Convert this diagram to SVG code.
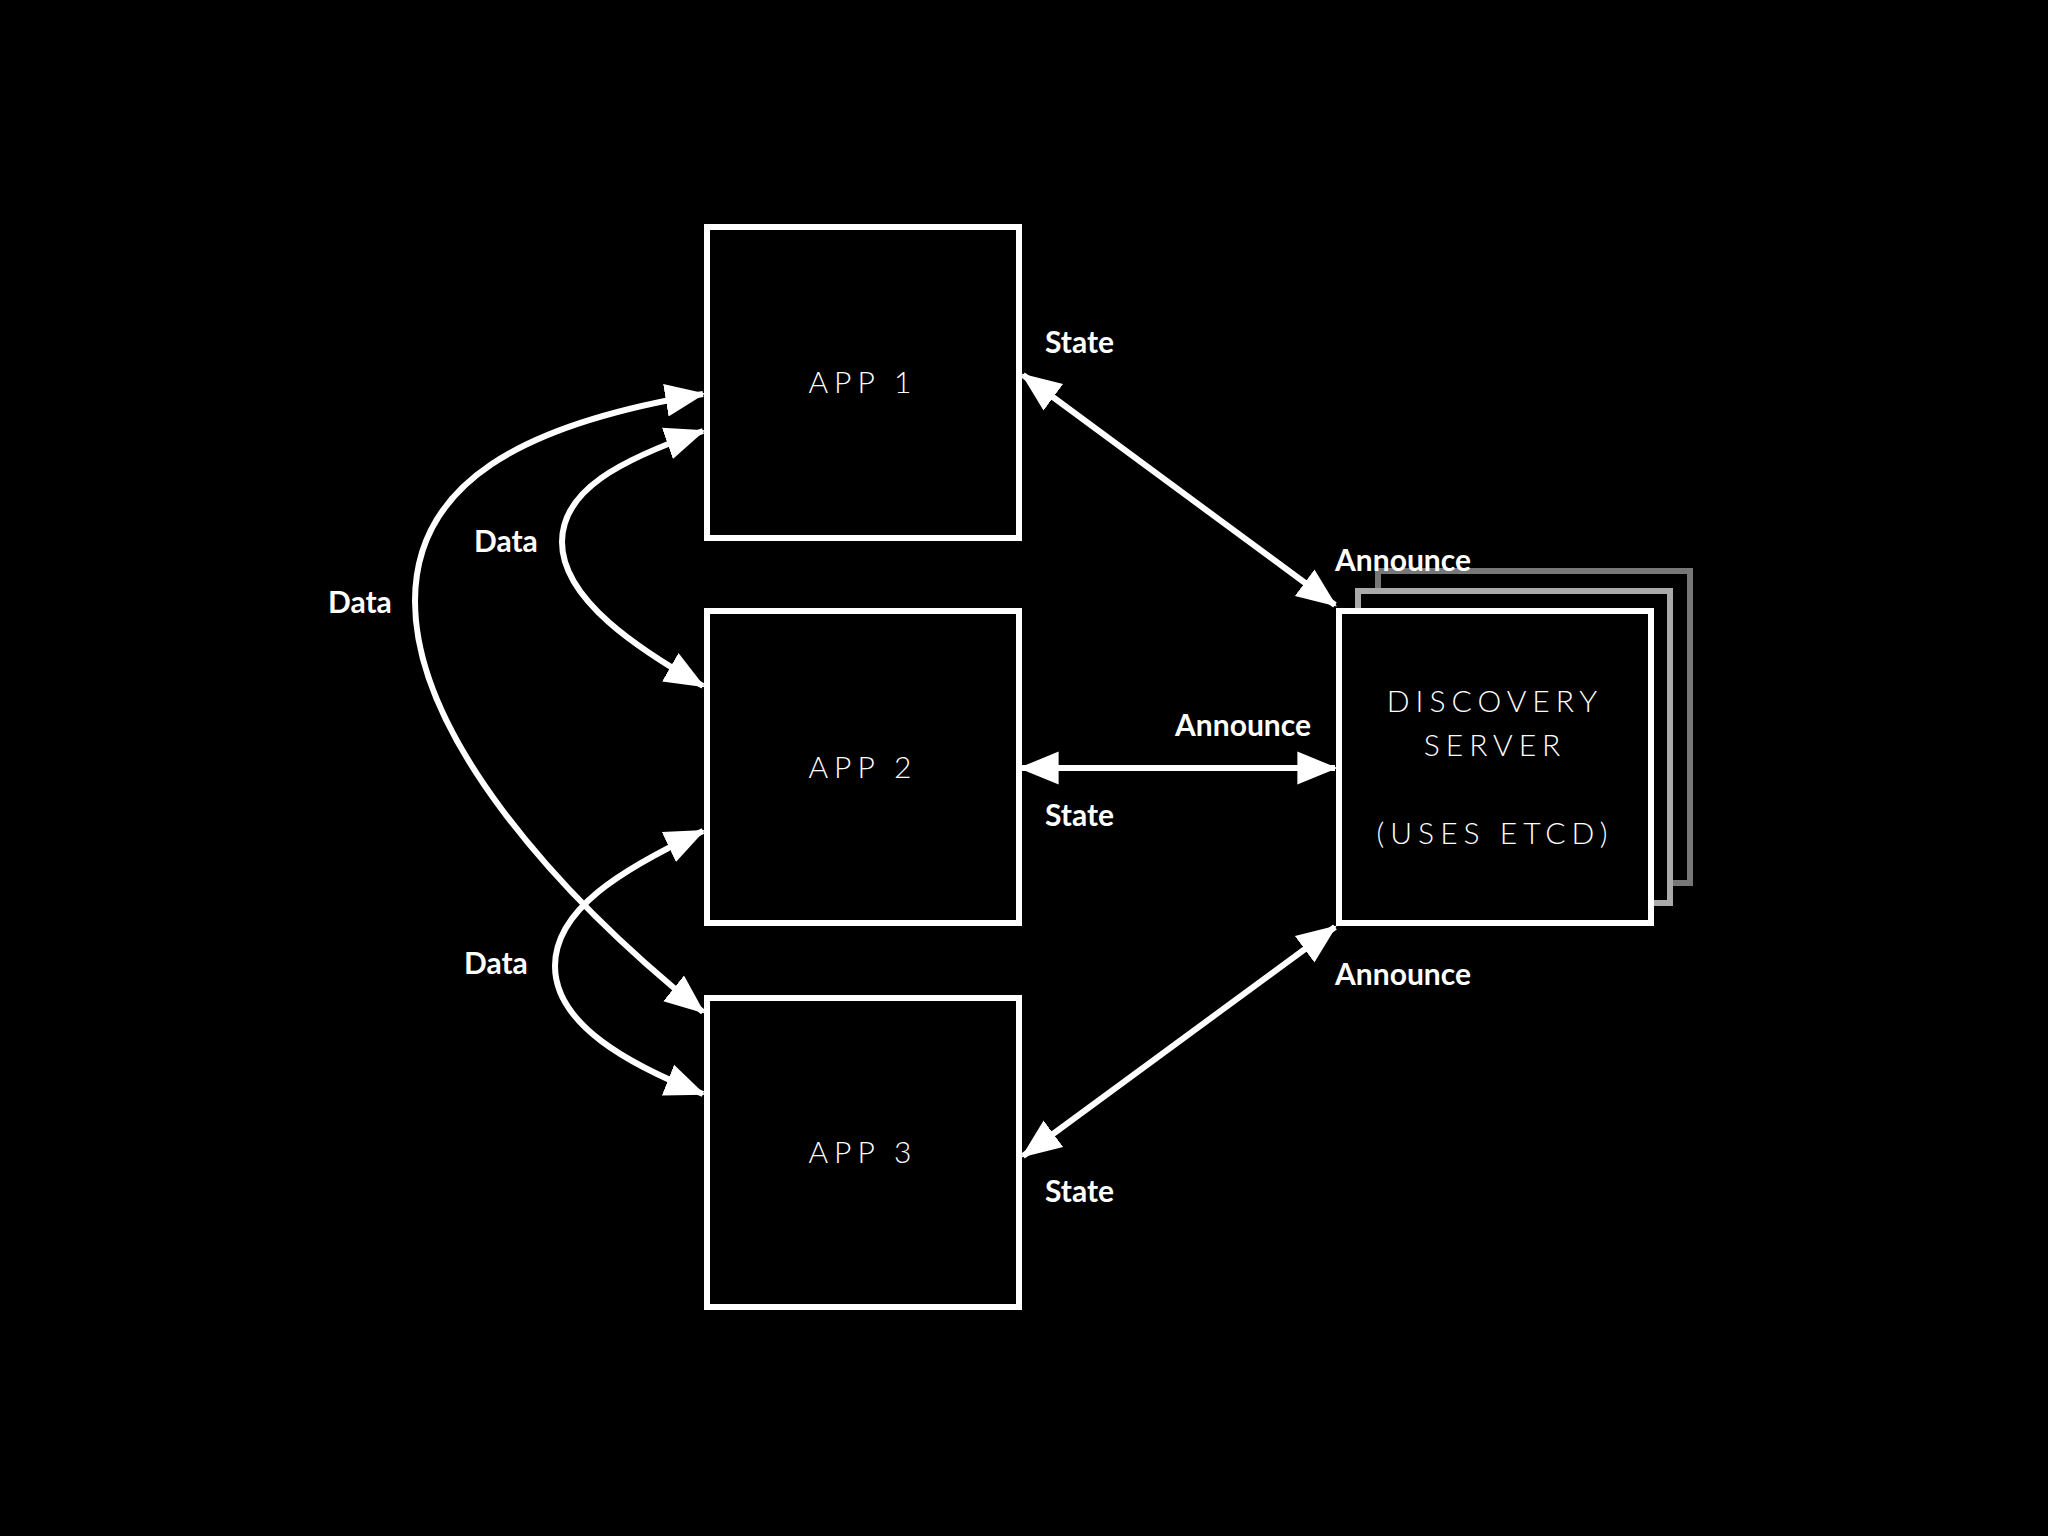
<svg xmlns="http://www.w3.org/2000/svg" width="2048" height="1536" viewBox="0 0 2048 1536">
<style>
.box{fill:#000;stroke:#fff;stroke-width:6}
.t{fill:#fff;font-family:Lato,"Liberation Sans",sans-serif;font-weight:300;font-size:30px;letter-spacing:6px;text-anchor:middle}
.l{fill:#fff;font-family:Lato,"Liberation Sans",sans-serif;font-weight:bold;font-size:30px}
.c{fill:none;stroke:#fff;stroke-width:6}
</style>
<defs>
<marker id="a" markerUnits="userSpaceOnUse" markerWidth="40" markerHeight="40" viewBox="0 0 34 28" refX="32" refY="14" orient="auto-start-reverse">
<path d="M0,0 L34,14 L0,28 z" fill="#fff"/>
</marker>
</defs>
<rect width="2048" height="1536" fill="#000"/>
<g id="app1"><rect class="box" x="707" y="227" width="312" height="311"/><text class="t" x="863" y="393">APP 1</text></g>
<g id="app2"><rect class="box" x="707" y="611" width="312" height="312"/><text class="t" x="863" y="778">APP 2</text></g>
<g id="app3"><rect class="box" x="707" y="998" width="312" height="309"/><text class="t" x="863" y="1163">APP 3</text></g>
<g id="discovery">
<rect x="1378" y="571" width="312" height="312" fill="none" stroke="#777" stroke-width="6"/>
<rect x="1358" y="591" width="312" height="312" fill="#000" stroke="#aaa" stroke-width="6"/>
<rect class="box" x="1339" y="611" width="312" height="312"/>
<text class="t" x="1495" y="712">DISCOVERY</text>
<text class="t" x="1495" y="756">SERVER</text>
<text class="t" x="1495" y="844">(USES ETCD)</text>
</g>
<g id="connectors">
<path class="c" d="M1023,375 L1335,605" marker-start="url(#a)" marker-end="url(#a)"/>
<path class="c" d="M1021,768 L1335,768" marker-start="url(#a)" marker-end="url(#a)"/>
<path class="c" d="M1023,1156 L1335,927" marker-start="url(#a)" marker-end="url(#a)"/>
<path class="c" d="M703,394 C522,424 415,483 415,601 C415,731 549,888 703,1012" marker-start="url(#a)" marker-end="url(#a)"/>
<path class="c" d="M703,431 C620,460 562,490 562,542 C562,600 640,650 703,686" marker-start="url(#a)" marker-end="url(#a)"/>
<path class="c" d="M703,831 C620,870 555,910 555,966 C555,1025 630,1065 703,1094" marker-start="url(#a)" marker-end="url(#a)"/>
</g>
<g id="labels">
<text class="l" x="1045" y="353">State</text>
<text class="l" x="1335" y="571">Announce</text>
<text class="l" x="1175" y="736">Announce</text>
<text class="l" x="1045" y="826">State</text>
<text class="l" x="1335" y="985">Announce</text>
<text class="l" x="1045" y="1202">State</text>
<text class="l" x="328" y="613">Data</text>
<text class="l" x="474" y="552">Data</text>
<text class="l" x="464" y="974">Data</text>
</g>
</svg>
